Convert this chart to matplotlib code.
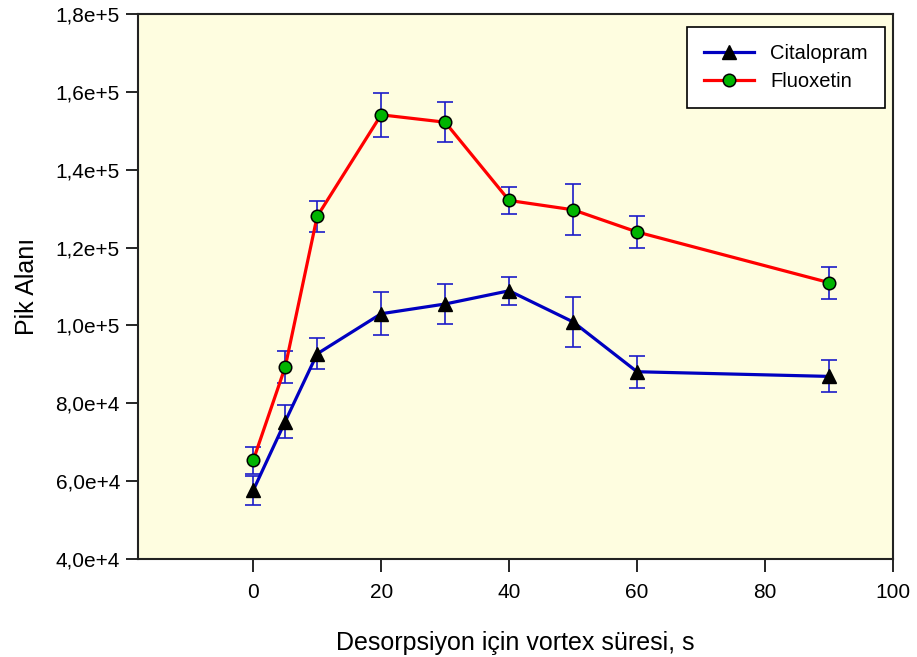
import matplotlib
matplotlib.use('Agg')
import matplotlib.pyplot as plt
from matplotlib.ticker import FuncFormatter

plt.rcParams['font.family'] = ['Liberation Sans', 'DejaVu Sans']

# Desorption vortex time (s) and peak areas with error
sure = [0, 5, 10, 20, 30, 40, 50, 60, 90]
citalopram = [57600, 75300, 92700, 103000, 105500, 108900, 100900, 88100, 86900]
citalopram_err = [3800, 4150, 4000, 5500, 5100, 3600, 6500, 4050, 4100]
fluoxetin = [65300, 89300, 128000, 154100, 152200, 132100, 129700, 124000, 111000]
fluoxetin_err = [3500, 4000, 4000, 5650, 5200, 3500, 6550, 4150, 4100]

x_ticks = [0, 20, 40, 60, 80, 100]
y_ticks = [40000, 60000, 80000, 100000, 120000, 140000, 160000, 180000]


def sci_virgul(v, pos):
    # e.g. 1,8e+5 instead of 1.8e+05
    mant, exp = '{:.1e}'.format(v).split('e')
    return '{}e{}{}'.format(mant.replace('.', ','), exp[0], int(exp[1:]))


fig = plt.figure(figsize=(9.17, 6.57), dpi=100)
ax = fig.add_axes([0.1505, 0.1492, 0.8233, 0.8295])
ax.set_facecolor('#fefde0')

err_style = dict(fmt='none', ecolor='#1c1cc8', elinewidth=1.2, capsize=6,
                 capthick=1.2)

# error bars first, lines and markers on top
ax.errorbar(sure, citalopram, yerr=citalopram_err, zorder=2, **err_style)
ax.errorbar(sure, fluoxetin, yerr=fluoxetin_err, zorder=2, **err_style)
ax.plot(sure, citalopram, color='#0000c0', lw=2.3, marker='^', ms=10,
        mfc='black', mec='black', label='Citalopram', zorder=3)
ax.plot(sure, fluoxetin, color='#ff0000', lw=2.3, marker='o', ms=9,
        mfc='#00b400', mec='black', mew=1.1, label='Fluoxetin', zorder=4)

ax.set_xlim(-18, 100)
ax.set_ylim(40000, 180000)
ax.set_xticks(x_ticks)
ax.set_yticks(y_ticks)
ax.yaxis.set_major_formatter(FuncFormatter(sci_virgul))

ax.tick_params(axis='both', direction='out', length=9, width=1.2,
               labelsize=15, top=False, right=False)
ax.tick_params(axis='x', pad=8)
ax.tick_params(axis='y', pad=4)
for sp in ax.spines.values():
    sp.set_linewidth(1.5)
    sp.set_color('#222222')

ax.set_xlabel('Desorpsiyon için vortex süresi, s', fontsize=18, labelpad=21)
ax.set_ylabel('Pik Alanı', fontsize=18, labelpad=12)

leg = ax.legend(loc='upper right', bbox_to_anchor=(0.9894, 0.976),
                borderaxespad=0, fontsize=14.5, fancybox=False, framealpha=1,
                edgecolor='black', handlelength=2.5, handletextpad=0.8,
                borderpad=0.85, labelspacing=0.45)
leg.get_frame().set_linewidth(1.2)

fig.savefig('out.png', dpi=100)
